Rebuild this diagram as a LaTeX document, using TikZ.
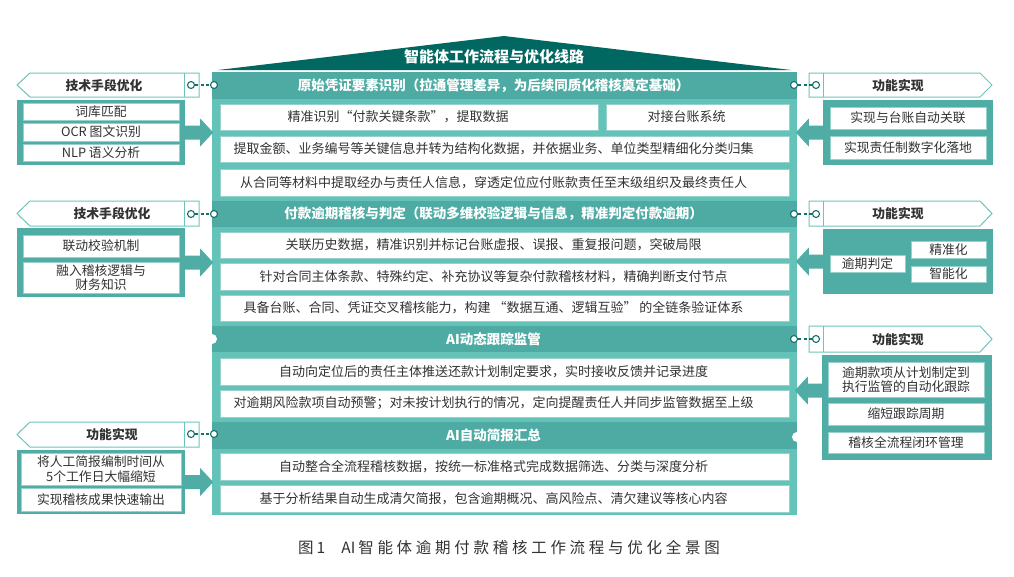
\documentclass[tikz,border=0pt]{standalone}
\usepackage{fontspec}
\setmainfont{Noto Sans CJK SC}
\newfontfamily\capfont[LetterSpace=24]{Noto Sans CJK SC}
\newfontfamily\capfontB{Noto Sans CJK SC}
\usetikzlibrary{calc}
\definecolor{roofc}{RGB}{0,103,97}
\definecolor{headc}{RGB}{77,171,164}
\definecolor{framec}{RGB}{100,195,184}
\definecolor{panc}{RGB}{79,173,166}
\definecolor{edgec}{RGB}{110,196,187}
\definecolor{dotc}{RGB}{22,112,106}
\definecolor{txtc}{RGB}{50,50,50}
\definecolor{wbedge}{RGB}{150,210,203}
\newcommand\rect[7]{\node[#2, minimum width={(#5)-(#3)}, minimum height={(#6)-(#4)}] (#1) at ({((#3)+(#5))/2},{((#4)+(#6))/2}) {#7};}
\newcommand\larrow[1]{\fill[panc] ($(#1)+(0,-7)$) -- ++(15,0) -- ++(0,-7) -- ++(13,14) -- ++(-13,14) -- ++(0,-7) -- ++(-15,0) -- cycle;}
\newcommand\rarrow[1]{\fill[panc] ($(#1)+(0,-7)$) -- ++(-14,0) -- ++(0,-7) -- ++(-13,14) -- ++(13,14) -- ++(0,-7) -- ++(14,0) -- cycle;}
\tikzset{
  colshift/.style={execute at end node={\hspace*{22pt}}},
  hband/.style={fill=headc, inner sep=0pt, text=white, font=\bfseries\fontsize{13.5}{16}\selectfont, colshift},
  wbox/.style={fill=white, draw=wbedge, line width=0.6pt, inner sep=0pt, text=txtc, font=\fontsize{13}{16}\selectfont, colshift},
  pbox/.style={fill=white, draw=wbedge, line width=0.6pt, inner sep=0pt, text=txtc, align=center, font=\fontsize{12.8}{14.5}\selectfont},
  pbody/.style={fill=panc, inner sep=0pt},
  phead/.style={draw=edgec, line width=1pt, fill=white},
  ptitle/.style={text=txtc, font=\bfseries\fontsize{12.8}{15}\selectfont},
  cdot/.style={circle, draw=dotc, fill=white, line width=1.1pt, minimum size=7pt, inner sep=0pt},
  conn/.style={draw=dotc, line width=1.1pt, dash pattern=on 3pt off 2.5pt}
}
\begin{document}
\begin{tikzpicture}[x=1pt,y=-1pt]
\useasboundingbox (0,0) rectangle (1014,576);
\fill[white] (0,0) rectangle (1014,576);

% roof
\fill[roofc] (218,70) -- (504,36) -- (791,70) -- cycle;
\node[font=\bfseries\fontsize{15}{18}\selectfont, text=white] (title) at (494,57) {智能体工作流程与优化线路};

% main column
\fill[framec] (212,72) rectangle (797,515);
\rect{h1}{hband}{212}{72}{797}{99}{原始凭证要素识别（拉通管理差异，为后续同质化稽核奠定基础）}
\rect{h2}{hband}{212}{201}{797}{227}{付款逾期稽核与判定（联动多维校验逻辑与信息，精准判定付款逾期）}
\rect{h3}{hband}{212}{326}{797}{352}{AI动态跟踪监管}
\rect{h4}{hband}{212}{422}{797}{449}{AI自动简报汇总}

\rect{r1a}{wbox}{220}{104}{598}{130}{精准识别“付款关键条款”，提取数据}
\rect{r1b}{wbox}{606}{104}{789}{130}{对接台账系统}
\rect{r2}{wbox}{220}{136}{789}{162}{提取金额、业务编号等关键信息并转为结构化数据，并依据业务、单位类型精细化分类归集}
\rect{r3}{wbox}{220}{169}{789}{196}{从合同等材料中提取经办与责任人信息，穿透定位应付账款责任至末级组织及最终责任人}
\rect{r4}{wbox}{220}{232}{789}{258}{关联历史数据，精准识别并标记台账虚报、误报、重复报问题，突破局限}
\rect{r5}{wbox}{220}{263}{789}{290}{针对合同主体条款、特殊约定、补充协议等复杂付款稽核材料，精确判断支付节点}
\rect{r6}{wbox}{220}{295}{789}{321}{具备台账、合同、凭证交叉稽核能力，构建 “数据互通、逻辑互验” 的全链条验证体系}
\rect{r7}{wbox}{220}{358}{789}{385}{自动向定位后的责任主体推送还款计划制定要求，实时接收反馈并记录进度}
\rect{r8}{wbox}{220}{390}{789}{417}{对逾期风险款项自动预警；对未按计划执行的情况，定向提醒责任人并同步监管数据至上级}
\rect{r9}{wbox}{220}{453}{789}{480}{自动整合全流程稽核数据，按统一标准格式完成数据筛选、分类与深度分析}
\rect{r10}{wbox}{220}{485}{789}{512}{基于分析结果自动生成清欠简报，包含逾期概况、高风险点、清欠建议等核心内容}

% notches
\fill[white] (212,339) circle (5);
\fill[white] (797,437) circle (5);

% ---------- left panel 1
\draw[phead] (17,85) -- (30,73) -- (199,73) -- (199,97) -- (30,97) -- cycle;
\draw[phead] (184,73) -- (184,97);
\node[ptitle] (lt1) at (104,85.5) {技术手段优化};
\rect{lb1}{pbody}{17}{100}{185}{165}{}
\rect{lw11}{pbox}{23}{103}{179}{120}{词库匹配}
\rect{lw12}{pbox}{23}{123}{179}{141}{OCR 图文识别}
\rect{lw13}{pbox}{23}{144}{179}{161}{NLP 语义分析}
\larrow{lb1.east}
\node[cdot] (cl1a) at (191,85) {};
\node[cdot] (cl1b) at (214,85) {};
\draw[conn] (cl1a) -- (cl1b);

% ---------- left panel 2
\draw[phead] (17,213.5) -- (30,201) -- (199,201) -- (199,226) -- (30,226) -- cycle;
\draw[phead] (184,201) -- (184,226);
\node[ptitle] (lt2) at (112,214) {技术手段优化};
\rect{lb2}{pbody}{17}{228}{185}{297}{}
\rect{lw21}{pbox}{23}{235}{179}{257}{联动校验机制}
\rect{lw22}{pbox}{23}{262}{179}{293}{融入稽核逻辑与\\财务知识}
\larrow{lb2.east}
\node[cdot] (cl2a) at (191,214) {};
\node[cdot] (cl2b) at (214,214) {};
\draw[conn] (cl2a) -- (cl2b);

% ---------- left panel 3
\draw[phead] (17,434.5) -- (30,422) -- (199,422) -- (199,447) -- (30,447) -- cycle;
\draw[phead] (184,422) -- (184,447);
\node[ptitle] (lt3) at (112,435) {功能实现};
\rect{lb3}{pbody}{17}{450}{185}{514}{}
\rect{lw31}{pbox}{21}{453}{181}{485}{将人工简报编制时间从\\5个工作日大幅缩短}
\rect{lw32}{pbox}{21}{488}{181}{511}{实现稽核成果快速输出}
\larrow{lb3.east}
\node[cdot] (cl3a) at (191,434) {};
\node[cdot] (cl3b) at (214,434) {};
\draw[conn] (cl3a) -- (cl3b);

% ---------- right panel 1
\draw[phead] (992,85) -- (980,73) -- (809,73) -- (809,97) -- (980,97) -- cycle;
\draw[phead] (823,73) -- (823,97);
\node[ptitle] (rt1) at (898,85.5) {功能实现};
\rect{rb1}{pbody}{823}{100}{993}{165}{}
\rect{rw11}{pbox}{830}{107}{986}{129}{实现与台账自动关联}
\rect{rw12}{pbox}{830}{136}{986}{159}{实现责任制数字化落地}
\rarrow{rb1.west}
\node[cdot] (cr1a) at (794,85) {};
\node[cdot] (cr1b) at (816,85) {};
\draw[conn] (cr1a) -- (cr1b);

% ---------- right panel 2
\draw[phead] (992,213.5) -- (980,201) -- (809,201) -- (809,226) -- (980,226) -- cycle;
\draw[phead] (823,201) -- (823,226);
\node[ptitle] (rt2) at (898,214) {功能实现};
\rect{rb2}{pbody}{823}{229}{993}{294}{}
\rect{rw21}{pbox}{830}{255}{905}{272}{逾期判定}
\rect{rw22}{pbox}{911}{241}{986}{258}{精准化}
\rect{rw23}{pbox}{911}{266}{986}{282}{智能化}
\rarrow{rb2.west}
\node[cdot] (cr2a) at (794,214) {};
\node[cdot] (cr2b) at (816,214) {};
\draw[conn] (cr2a) -- (cr2b);

% ---------- right panel 3
\draw[phead] (992,339) -- (980,326) -- (809,326) -- (809,352) -- (980,352) -- cycle;
\draw[phead] (823,326) -- (823,352);
\node[ptitle] (rt3) at (898,339.5) {功能实现};
\rect{rb3}{pbody}{822}{355}{992}{460}{}
\rect{rw31}{pbox}{828}{362}{984}{397}{逾期款项从计划制定到\\执行监管的自动化跟踪}
\rect{rw32}{pbox}{828}{403}{984}{425}{缩短跟踪周期}
\rect{rw33}{pbox}{828}{432}{984}{453}{稽核全流程闭环管理}
\rarrow{$(rb3.west)+(0,-17)$}
\node[cdot] (cr3a) at (794,339) {};
\node[cdot] (cr3b) at (816,339) {};
\draw[conn] (cr3a) -- (cr3b);

% caption
\node[font=\fontsize{15.5}{18}\selectfont, text=txtc] (cap) at (509,548) {{\capfontB 图\hspace{3pt}1}\hspace{16pt}{\capfontB AI}\hspace{3pt}{\capfont 智能体逾期付款稽核工作流程与优化全景图}};
\end{tikzpicture}
\end{document}
